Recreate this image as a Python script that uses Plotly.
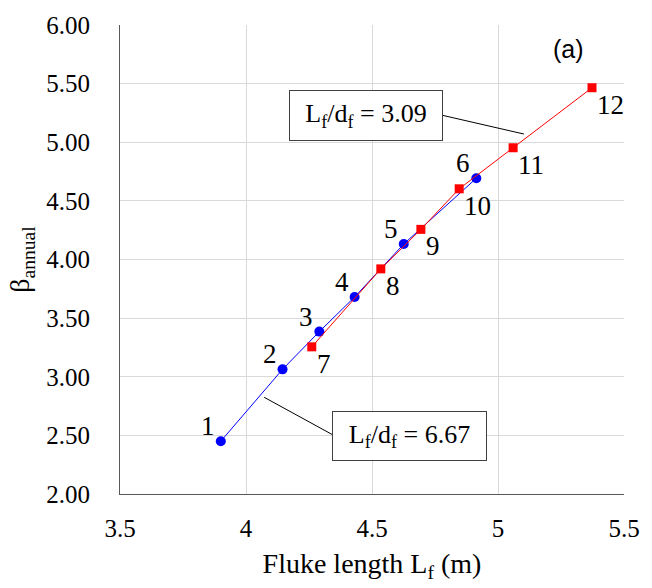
import plotly.graph_objects as go

# Series A: Lf/df = 6.67 (blue circles)
lf_a = [3.90, 4.145, 4.291, 4.431, 4.626, 4.914]
beta_a = [2.45, 3.063, 3.385, 3.68, 4.132, 4.693]
labels_a = ["1", "2", "3", "4", "5", "6"]

# Series B: Lf/df = 3.09 (red squares)
lf_b = [4.261, 4.535, 4.694, 4.846, 5.06, 5.373]
beta_b = [3.255, 3.92, 4.257, 4.603, 4.953, 5.465]
labels_b = ["7", "8", "9", "10", "11", "12"]

x_ticks = [3.5, 4, 4.5, 5, 5.5]
y_ticks = [2.0, 2.5, 3.0, 3.5, 4.0, 4.5, 5.0, 5.5, 6.0]

SERIF = "Liberation Serif"
FS = 25

fig = go.Figure()
fig.add_trace(go.Scatter(
    x=lf_a, y=beta_a, mode="lines+markers",
    line=dict(color="#0000FF", width=1),
    marker=dict(symbol="circle", size=10, color="#0000FF"),
    showlegend=False, cliponaxis=False))
fig.add_trace(go.Scatter(
    x=lf_b, y=beta_b, mode="lines+markers",
    line=dict(color="#FF0000", width=1),
    marker=dict(symbol="square", size=9, color="#FF0000"),
    showlegend=False, cliponaxis=False))

# point labels
for xv, yv, t in zip(lf_a, beta_a, labels_a):
    fig.add_annotation(x=xv, y=yv, xref="x", yref="y", text=t, showarrow=False,
                       xanchor="center", yanchor="middle", xshift=-13, yshift=15,
                       font=dict(family=SERIF, size=27, color="black"))
for xv, yv, t in zip(lf_b, beta_b, labels_b):
    fig.add_annotation(x=xv, y=yv, xref="x", yref="y", text=t, showarrow=False,
                       xanchor="left", yanchor="middle", xshift=3, yshift=-17,
                       font=dict(family=SERIF, size=27, color="black"))

# leader lines
fig.add_shape(type="line", xref="x", yref="y", x0=4.777, y0=5.231, x1=5.103, y1=5.070,
              line=dict(color="black", width=1))
fig.add_shape(type="line", xref="x", yref="y", x0=4.072, y0=2.825, x1=4.343, y1=2.506,
              line=dict(color="black", width=1))

fig.add_annotation(x=4.475, y=5.227, xref="x", yref="y", showarrow=False,
                   text="L<sub>f</sub>/d<sub>f</sub> = 3.09",
                   font=dict(family=SERIF, size=26, color="black"),
                   bordercolor="#404040", borderwidth=1, borderpad=0,
                   bgcolor="white", width=152, height=49)
fig.add_annotation(x=4.6495, y=2.493, xref="x", yref="y", showarrow=False,
                   text="L<sub>f</sub>/d<sub>f</sub> = 6.67",
                   font=dict(family=SERIF, size=26, color="black"),
                   bordercolor="#404040", borderwidth=1, borderpad=0,
                   bgcolor="white", width=153, height=48)
fig.add_annotation(xref="x domain", yref="y domain",
                   x=(575 - 120.5) / 511, y=(494 - 47) / 471.3,
                   xanchor="center", yanchor="middle", showarrow=False,
                   text="(a)", font=dict(family="Liberation Sans", size=25, color="black"))

fig.update_layout(
    width=652, height=588,
    margin=dict(l=120, r=20, t=23, b=94),
    paper_bgcolor="white", plot_bgcolor="white",
    font=dict(family=SERIF, size=FS, color="black"),
)
fig.update_xaxes(range=[3.5, 5.5], tickvals=x_ticks, ticktext=[f"{v:g}" for v in x_ticks],
                 showgrid=True, gridcolor="#d9d9d9", gridwidth=1,
                 showline=True, linecolor="#595959", linewidth=1, mirror=False,
                 zeroline=False, ticks="", ticklabelstandoff=12,
                 tickfont=dict(family=SERIF, size=FS, color="black"),
                 title=dict(text="Fluke length L<sub>f</sub> (m)",
                            font=dict(family=SERIF, size=28, color="black"), standoff=12))
fig.update_yaxes(range=[2.0, 6.0], tickvals=y_ticks, ticktext=[f"{v:.2f}" for v in y_ticks],
                 showgrid=True, gridcolor="#d9d9d9", gridwidth=1,
                 showline=True, linecolor="#595959", linewidth=1, mirror=False,
                 zeroline=False, ticks="", ticklabelstandoff=24,
                 tickfont=dict(family=SERIF, size=FS, color="black"),
                 title=dict(text="β<sub>annual</sub>",
                            font=dict(family=SERIF, size=28, color="black"), standoff=8))

fig.write_html("out.html")
